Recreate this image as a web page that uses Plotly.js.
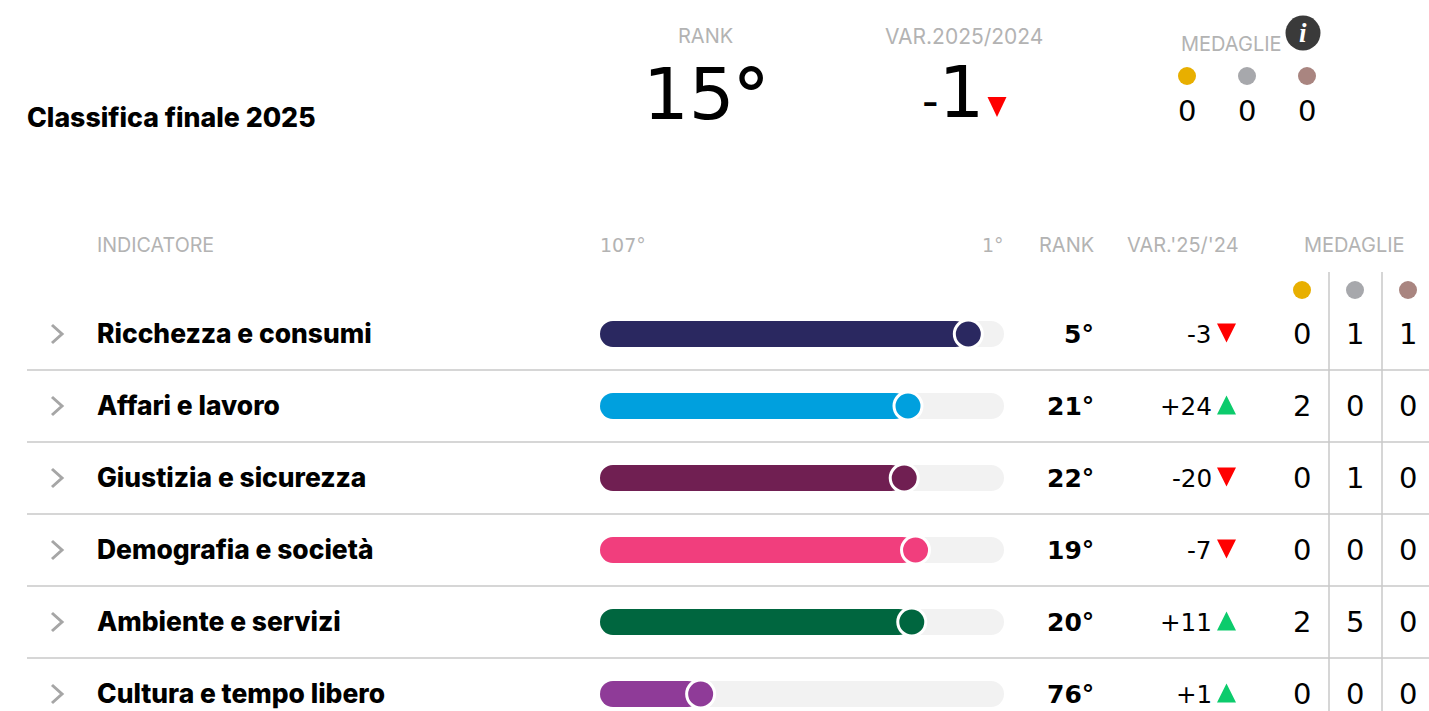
<!DOCTYPE html>
<html><head><meta charset="utf-8">
<script src="https://cdn.plot.ly/plotly-3.0.1.min.js"></script>
<style>html,body{margin:0;padding:0;background:#fff;overflow:hidden}#c{width:1429px;height:711px}</style>
</head><body><div id="c"></div>
<script>
const indicators=["Ricchezza e consumi","Affari e lavoro","Giustizia e sicurezza","Demografia e società","Ambiente e servizi","Cultura e tempo libero"];
const ranks=[5,21,22,19,20,76];
const variations=[-3,24,-20,-7,11,1];
const gold=[0,2,0,0,2,0];
const silver=[1,0,1,0,5,0];
const bronze=[1,0,0,0,0,0];
const colors=["#2a2860","#00a0de","#701f52","#f13e7d","#00663f","#8f3b98"];
const overallRank=15, overallVar=-1, overallMedals=[0,0,0];
const medalColors=["#e8af00","#a7a8ac","#a98580"];
const W=1429,H=711;
const rows=indicators.map((_,i)=>i);
const pxPerRank=3.77, rank1Px=983.4;
const p2r=p=>1+(rank1Px-p)/pxPerRank;
const trackL=p2r(600), trackR=p2r(1004);
const ROW0=334, ROWH=72;
const INTER="Inter, sans-serif", DJ="'DejaVu Sans', sans-serif";
const traces=[];
const hdr='#b3b3b3';
traces.push({type:'bar',orientation:'h',y:rows,base:rows.map(()=>trackL),x:rows.map(()=>trackR-trackL),
  width:26/ROWH,marker:{color:'#f2f2f2',cornerradius:13},hoverinfo:'skip'});
traces.push({type:'bar',orientation:'h',y:rows,base:rows.map(()=>trackL),x:ranks.map(r=>r-trackL),
  width:26/ROWH,marker:{color:colors,cornerradius:13},hoverinfo:'skip'});
traces.push({type:'scatter',mode:'markers',x:ranks,y:rows,
  marker:{size:28,color:colors,line:{color:'#fff',width:3}},hoverinfo:'skip'});
const cols=[1302,1355,1408], topCols=[1187,1247,1307];
traces.push({type:'scatter',mode:'markers',xaxis:'x2',yaxis:'y2',x:cols,y:cols.map(()=>290),
  marker:{size:18,color:medalColors},hoverinfo:'skip'});
traces.push({type:'scatter',mode:'markers',xaxis:'x2',yaxis:'y2',x:topCols,y:topCols.map(()=>76),
  marker:{size:18,color:medalColors},hoverinfo:'skip'});
traces.push({type:'scatter',mode:'markers',xaxis:'x2',yaxis:'y2',x:[1303],y:[33],
  marker:{size:35,color:'#3a3a3a'},hoverinfo:'skip'});
const ann=[];
const T=(text,x,y,size,color,anchor,weight,family)=>ann.push({text,x,y,xref:'x2',yref:'y2',showarrow:false,
  xanchor:anchor||'center',yanchor:'middle',font:{size,color:color||'#000',family:family||INTER,weight:weight||400}});
T('Classifica finale 2025',25,117,26.7,'#000','left',800);
T('RANK',705,36,20,hdr);
T(overallRank+'<span style="font-family:Inter">°</span>',705,92,72,'#000','center',400,DJ);
T('VAR.2025/2024',964,36,21,hdr);
T('<span style="font-size:46px">-</span>'+Math.abs(overallVar),953,92,72,'#000','center',400,DJ);
T('MEDAGLIE',1231,44,20,hdr);
T('<i>i</i>',1303,33,27,'#fff','center',700,'Liberation Serif');
overallMedals.forEach((m,i)=>T(String(m),topCols[i],111,29,'#000','center',400,DJ));
T('INDICATORE',95,245,19.7,hdr,'left');
T('107°',598,245,19,hdr,'left',400,DJ);
T('1°',1006,245,19,hdr,'right',400,DJ);
T('RANK',1096,245,20,hdr,'right');
T("VAR.'25/'24",1241,245,20,hdr,'right');
T('MEDAGLIE',1354,245,20,hdr);
indicators.forEach((n,i)=>{
  const y=ROW0+i*ROWH;
  T(n,95,y-1,26.4,'#000','left',800);
  T(ranks[i]+'°',1096,y,25,'#000','right',700,DJ);
  T((variations[i]>0?'+':'')+variations[i],1214,y,24.6,'#000','right',400,DJ);
  T(String(gold[i]),cols[0],y,29,'#000','center',400,DJ);
  T(String(silver[i]),cols[1],y,29,'#000','center',400,DJ);
  T(String(bronze[i]),cols[2],y,29,'#000','center',400,DJ);
});
const shapes=[];
const line=(x0,y0,x1,y1)=>shapes.push({type:'line',xref:'x2',yref:'y2',x0,y0,x1,y1,line:{color:'#c9c9c9',width:1.5},layer:'below'});
for(let i=0;i<5;i++) line(27,370+i*ROWH,W,370+i*ROWH);
[1329,1382].forEach(x=>{line(x,272,x,H);});
rows.forEach(i=>{const y=ROW0+i*ROWH;
  shapes.push({type:'path',xref:'x2',yref:'y2',path:`M 52 ${y-9} L 62 ${y} L 52 ${y+9}`,line:{color:'#a6a6a6',width:3},layer:'below'});});
const tri=(cx,cy,w,h,down,color)=>shapes.push({type:'path',xref:'x2',yref:'y2',line:{width:0},fillcolor:color,
  path:down?`M ${cx-w/2} ${cy-h/2} L ${cx+w/2} ${cy-h/2} L ${cx} ${cy+h/2} Z`:`M ${cx-w/2} ${cy+h/2} L ${cx+w/2} ${cy+h/2} L ${cx} ${cy-h/2} Z`});
variations.forEach((v,i)=>tri(1226.5,ROW0-1+i*ROWH,19,19,v<0,v<0?'#ff0000':'#0ccb6c'));
tri(997,107,19,20,overallVar<0,'#ff0000');
const layout={width:W,height:H,margin:{l:0,r:0,t:0,b:0,pad:0},paper_bgcolor:'#fff',plot_bgcolor:'rgba(0,0,0,0)',
  barmode:'overlay',showlegend:false,annotations:ann,shapes,
  xaxis:{range:[p2r(0),p2r(W)],visible:false,fixedrange:true},
  yaxis:{range:[(H-ROW0)/ROWH,-ROW0/ROWH],visible:false,fixedrange:true},
  xaxis2:{range:[0,W],overlaying:'x',visible:false,fixedrange:true},
  yaxis2:{range:[H,0],overlaying:'y',visible:false,fixedrange:true}};
Plotly.newPlot('c',traces,layout,{displayModeBar:false,staticPlot:true});
</script></body></html>
